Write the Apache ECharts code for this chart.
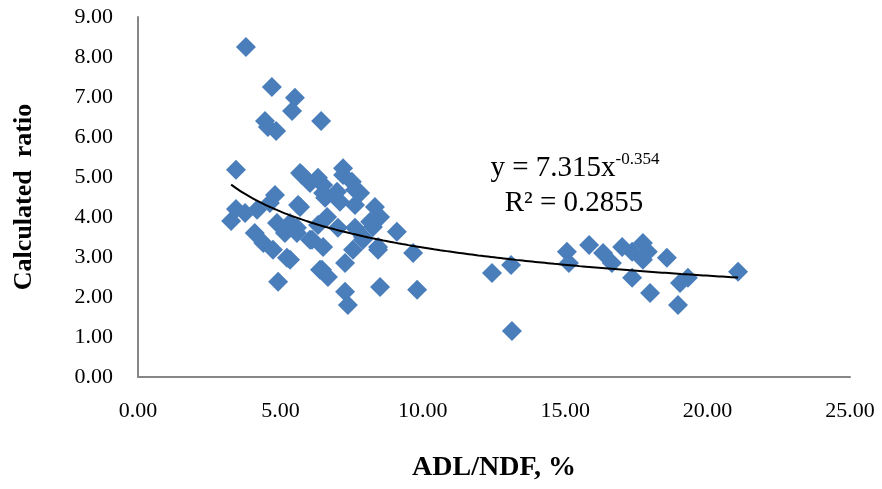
<!DOCTYPE html>
<html>
	<head>
		<meta charset="utf-8">
		<title></title>
		<style type="text/css">
			* {
				margin: 0;
				padding: 0;
			}

			html,
			body {
				width: 100%;
				height: 100%;
				background: #fff;
			}

			#chart {
				width: 882px;
				height: 489px;
			}
		</style>
	</head>
	<body>
		<div id="chart"></div>
		<script src="https://cdn.jsdelivr.net/npm/echarts@6/dist/echarts.min.js"></script>
		<script>
			// ADL/NDF, %
			var adlNdf = [3.79, 4.70, 5.51, 5.41, 6.43, 4.46, 4.56, 4.85, 3.44, 3.44,
				3.27, 3.76, 4.81, 4.63, 4.18, 4.10, 4.40, 4.74, 5.23, 4.92,
				5.69, 6.04, 5.69, 4.88, 5.34, 5.16, 5.58, 6.04, 6.39, 6.50,
				5.76, 6.32, 6.50, 7.20, 7.20, 7.51, 7.62, 6.99, 6.57, 7.09,
				7.62, 8.32, 8.50, 8.15, 9.09, 5.62, 6.64, 6.32, 7.02, 7.62,
				8.25, 5.58, 6.11, 6.50, 7.55, 8.43, 5.34, 6.46, 6.67, 7.27,
				7.27, 7.37, 8.50, 7.90, 8.43, 9.66, 9.80, 12.43, 13.10, 13.13,
				15.06, 15.13, 15.84, 16.33, 16.64, 17.00, 17.35, 17.73, 17.90, 17.73,
				18.57, 17.35, 17.98, 18.96, 19.03, 19.31, 21.07, 7.80, 7.90
			]
			// Calculated ratio
			var ratio = [8.25, 7.25, 6.98, 6.65, 6.40, 6.40, 6.25, 6.15, 5.18, 4.20,
				3.90, 4.10, 4.55, 4.35, 4.18, 3.60, 3.35, 3.18, 2.98, 2.38,
				5.10, 4.85, 4.25, 3.85, 3.85, 3.60, 3.73, 3.43, 2.68, 4.60,
				5.05, 4.98, 4.80, 5.22, 5.05, 4.88, 4.68, 4.63, 4.48, 4.38,
				4.30, 4.25, 4.00, 3.88, 3.63, 4.30, 4.00, 3.80, 3.73, 3.73,
				3.75, 3.60, 3.43, 3.25, 3.18, 3.25, 2.93, 2.68, 2.50, 2.85,
				2.13, 1.80, 2.25, 3.50, 3.18, 3.10, 2.18, 2.60, 2.80, 1.15,
				3.13, 2.85, 3.30, 3.10, 2.85, 3.25, 3.13, 3.35, 3.13, 2.93,
				2.98, 2.48, 2.10, 1.80, 2.35, 2.48, 2.63, 4.60, 3.43
			]

			// power trendline y = a * x^b, drawn over the data range
			var trendA = 7.315
			var trendB = -0.354
			var trendRange = [3.27, 21.07]
			var trendLabel = ['y = 7.315x', '-0.354', 'R² = 0.2855']

			var xTicks = [0, 25, 5]
			var yTicks = [0, 9, 1]

			var points = []
			for (let i = 0; i < adlNdf.length; i++) {
				points.push([adlNdf[i], ratio[i]])
			}

			var trend = []
			var steps = 80
			for (let i = 0; i <= steps; i++) {
				let x = trendRange[0] + (trendRange[1] - trendRange[0]) * i / steps
				trend.push([x, trendA * Math.pow(x, trendB)])
			}

			var font = '"Liberation Serif", "DejaVu Serif", serif'

			var myChart = echarts.init(document.getElementById('chart'));
			var option = {
				animation: false,
				grid: {
					left: 138,
					right: 32,
					top: 17,
					bottom: 112,
					outerBoundsMode: 'none'
				},
				xAxis: {
					type: 'value',
					min: xTicks[0],
					max: xTicks[1],
					interval: xTicks[2],
					name: 'ADL/NDF, %',
					nameLocation: 'middle',
					nameGap: 77,
					nameTextStyle: {
						fontFamily: font,
						fontWeight: 'bold',
						fontSize: 28,
						color: '#000'
					},
					axisLine: {
						lineStyle: {
							color: '#868686',
							width: 2
						}
					},
					axisTick: {
						show: false
					},
					splitLine: {
						show: false
					},
					axisLabel: {
						margin: 23,
						fontFamily: font,
						fontSize: 22,
						color: '#000',
						formatter: function(v) {
							return v.toFixed(2)
						}
					}
				},
				yAxis: {
					type: 'value',
					min: yTicks[0],
					max: yTicks[1],
					interval: yTicks[2],
					name: 'Calculated  ratio',
					nameLocation: 'middle',
					nameGap: 101,
					nameTextStyle: {
						fontFamily: font,
						fontWeight: 'bold',
						fontSize: 26,
						color: '#000'
					},
					axisLine: {
						show: true,
						lineStyle: {
							color: '#868686',
							width: 2
						}
					},
					axisTick: {
						show: false
					},
					splitLine: {
						show: false
					},
					axisLabel: {
						margin: 25,
						fontFamily: font,
						fontSize: 22,
						color: '#000',
						formatter: function(v) {
							return v.toFixed(2)
						}
					}
				},
				graphic: [{
					type: 'text',
					x: 575,
					y: 168,
					style: {
						align: 'center',
						verticalAlign: 'middle',
						rich: {
							b: {
								fontFamily: font,
								fontSize: 29,
								fill: '#000'
							},
							sup: {
								fontFamily: font,
								fontSize: 17,
								fill: '#000',
								verticalAlign: 'top',
								padding: [0, 0, 16, 0]
							}
						},
						text: '{b|' + trendLabel[0] + '}{sup|' + trendLabel[1] + '}'
					}
				}, {
					type: 'text',
					x: 574,
					y: 203,
					style: {
						align: 'center',
						verticalAlign: 'middle',
						text: trendLabel[2],
						fontFamily: font,
						fontSize: 29,
						fill: '#000'
					}
				}],
				series: [{
					type: 'scatter',
					data: points,
					symbol: 'diamond',
					symbolSize: 20,
					itemStyle: {
						color: '#4a7ebb',
						opacity: 1
					},
					z: 2
				}, {
					type: 'line',
					data: trend,
					showSymbol: false,
					smooth: true,
					lineStyle: {
						color: '#000',
						width: 2
					},
					z: 3
				}]
			};
			myChart.setOption(option);
		</script>
	</body>
</html>
